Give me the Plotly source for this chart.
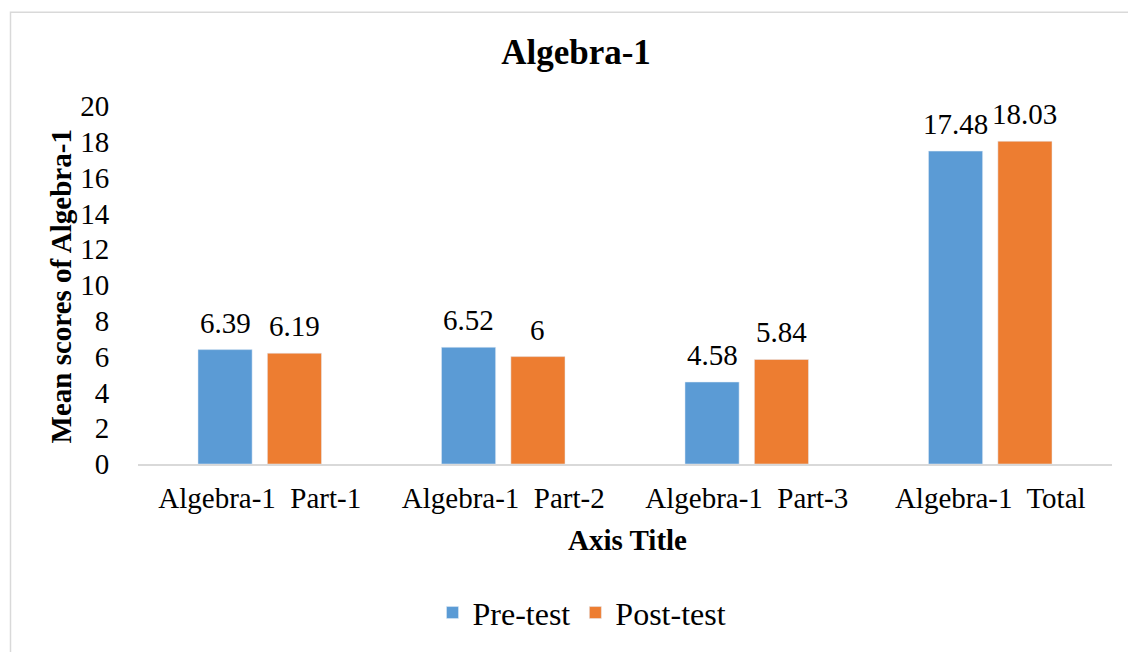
import plotly.graph_objects as go

categories = ["Algebra-1  Part-1", "Algebra-1  Part-2", "Algebra-1  Part-3", "Algebra-1  Total"]
pre_test = [6.39, 6.52, 4.58, 17.48]
post_test = [6.19, 6.00, 5.84, 18.03]
y_ticks = [0, 2, 4, 6, 8, 10, 12, 14, 16, 18, 20]

FONT = "Liberation Serif"
W, H = 1128, 652
L, R, T, B = 138, 16, 106, 185
PW, PH = W - L - R, H - T - B

def px_x(x):
    return (x - L) / PW

def px_y(y):
    return (H - B - y) / PH

fig = go.Figure()
fig.add_trace(go.Bar(name="Pre-test", x=categories, y=pre_test, marker=dict(color="#5b9bd5")))
fig.add_trace(go.Bar(name="Post-test", x=categories, y=post_test, marker=dict(color="#ed7d31")))

# data labels above bars (group offset = half of bar slot)
slot_px = PW / len(categories) * (1 - 0.43) / 2
for series, sign in ((pre_test, -1), (post_test, 1)):
    for cat, val in zip(categories, series):
        fig.add_annotation(x=cat, y=val, text=f"{val:g}", showarrow=False,
                           xshift=sign * slot_px / 2, yshift=27,
                           xanchor="center", yanchor="middle",
                           font=dict(family=FONT, size=29, color="black"))

fig.update_layout(
    width=W, height=H,
    margin=dict(l=L, r=R, t=T, b=B),
    paper_bgcolor="white", plot_bgcolor="white",
    font=dict(family=FONT, size=29, color="black"),
    barmode="group", bargap=0.43, bargroupgap=0.22,
    title=dict(text="<b>Algebra-1</b>", font=dict(family=FONT, size=35, color="black"),
               x=576 / W, xref="container", xanchor="center",
               y=1 - 52 / H, yref="container", yanchor="middle"),
    showlegend=True,
    legend=dict(orientation="h", x=px_x(582), xanchor="center",
                y=px_y(617), yanchor="middle",
                font=dict(family=FONT, size=32, color="black"),
                itemwidth=30, traceorder="normal"),
)
fig.update_xaxes(
    showgrid=False, zeroline=False, showline=True, linecolor="#d9d9d9", linewidth=2,
    ticks="outside", ticklen=7, tickcolor="rgba(0,0,0,0)",
    tickfont=dict(family=FONT, size=29, color="black"),
)
fig.update_yaxes(
    range=[0, 20], tickvals=y_ticks, showgrid=False, zeroline=False, showline=False,
    ticks="outside", ticklen=22, tickcolor="rgba(0,0,0,0)",
    tickfont=dict(family=FONT, size=29, color="black"),
)

fig.add_annotation(text="<b>Mean scores of Algebra-1</b>", textangle=-90,
                   xref="paper", yref="paper", x=px_x(61), y=px_y(288),
                   xanchor="center", yanchor="middle", showarrow=False,
                   font=dict(family=FONT, size=29, color="black"))
fig.add_annotation(text="<b>Axis Title</b>",
                   xref="paper", yref="paper", x=px_x(627), y=px_y(544),
                   xanchor="center", yanchor="middle", showarrow=False,
                   font=dict(family=FONT, size=29, color="black"))

fig.add_shape(type="rect", xref="paper", yref="paper",
              x0=px_x(10.5), x1=px_x(1140), y0=px_y(670), y1=px_y(11.5),
              line=dict(color="#d9d9d9", width=1.5), fillcolor="rgba(0,0,0,0)", layer="below")

fig.write_html("out.html", config={"displayModeBar": False},
               post_script="document.body.style.margin='0';")
